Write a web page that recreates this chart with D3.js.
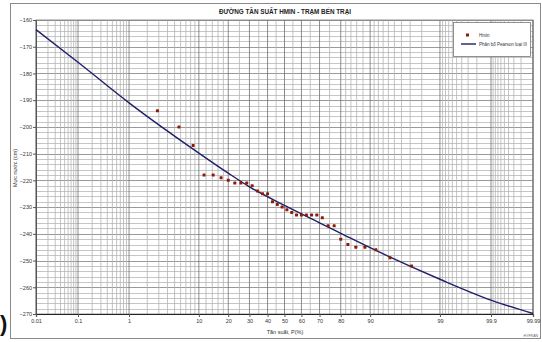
<!DOCTYPE html>
<html>
<head>
<meta charset="utf-8">
<script src="https://cdn.jsdelivr.net/npm/d3@7"></script>
<style>
  body { margin: 0; background: #fff; }
  text { font-family: "Liberation Sans Narrow", "Arial Narrow", "Liberation Sans", Arial, sans-serif; }
</style>
</head>
<body>
<div id="chart"></div>
<script>
"use strict";

// values
const levelTicks = [-160, -170, -180, -190, -200, -210, -220, -230, -240, -250, -260, -270];
const freqTicks = [0.01, 0.1, 1, 10, 20, 30, 40, 50, 60, 70, 80, 90, 99, 99.9, 99.99];
const freqTickLabels = ["0.01", "0.1", "1", "10", "20", "30", "40", "50", "60", "70", "80", "90", "99", "99.9", "99.99"];

// observed Hmin (empirical frequency %, level cm)
const obsFreq = [2.86, 5.71, 8.57, 11.43, 14.29, 17.14, 20.00, 22.86, 25.71, 28.57, 31.43, 34.29,
  37.14, 40.00, 42.86, 45.71, 48.57, 51.43, 54.29, 57.14, 60.00, 62.86, 65.71, 68.57, 71.43,
  74.29, 77.14, 80.00, 82.86, 85.71, 88.57, 91.43, 94.29, 97.14];
const obsLevel = [-194, -200, -207, -218, -218, -219, -220, -221, -221, -221, -222, -224,
  -225, -225, -228, -229, -230, -231, -232, -233, -233, -233, -233, -233, -234,
  -237, -237, -242, -244, -245, -245, -246, -249, -252];

// Pearson III curve
const curveFreq = [0.01, 0.1, 1, 10, 20, 30, 50, 70, 80, 90, 99, 99.9, 99.99];
const curveLevel = [-163.6, -175.8, -191.0, -209.8, -217.3, -222.4, -229.4, -235.9, -239.8, -245.2, -257.0, -264.8, -269.8];

const width = 542;
const height = 342;
const plot = { left: 36, right: 533, top: 20, bottom: 314 };

// inverse normal cdf (Acklam), used for the probability axis
function probit(p) {
  const a = [-3.969683028665376e+01, 2.209460984245205e+02, -2.759285104469687e+02, 1.383577518672690e+02, -3.066479806614716e+01, 2.506628277459239e+00];
  const b = [-5.447609879822406e+01, 1.615858368580409e+02, -1.556989798598866e+02, 6.680131188771972e+01, -1.328068155288572e+01];
  const c = [-7.784894002430293e-03, -3.223964580411365e-01, -2.400758277161838e+00, -2.549671750135263e+00, 4.374664141464968e+00, 2.938163982698783e+00];
  const d = [7.784695709041462e-03, 3.224671290700398e-01, 2.445134137142996e+00, 3.754408661907416e+00];
  const pl = 0.02425;
  let q, r;
  if (p < pl) {
    q = Math.sqrt(-2 * Math.log(p));
    return (((((c[0]*q+c[1])*q+c[2])*q+c[3])*q+c[4])*q+c[5]) / ((((d[0]*q+d[1])*q+d[2])*q+d[3])*q+1);
  }
  if (p > 1 - pl) {
    q = Math.sqrt(-2 * Math.log(1 - p));
    return -(((((c[0]*q+c[1])*q+c[2])*q+c[3])*q+c[4])*q+c[5]) / ((((d[0]*q+d[1])*q+d[2])*q+d[3])*q+1);
  }
  q = p - 0.5;
  r = q * q;
  return (((((a[0]*r+a[1])*r+a[2])*r+a[3])*r+a[4])*r+a[5])*q / (((((b[0]*r+b[1])*r+b[2])*r+b[3])*r+b[4])*r+1);
}

const zScale = d3.scaleLinear()
  .domain([probit(0.0001), probit(0.9999)])
  .range([plot.left, plot.right]);
const xPos = f => zScale(probit(f / 100));

const yScale = d3.scaleLinear()
  .domain([-270, -160])
  .range([plot.bottom, plot.top]);

const svg = d3.select("#chart")
  .append("svg")
  .attr("width", width)
  .attr("height", height);

// outer frame
svg.append("rect")
  .attr("x", 10.5).attr("y", 3.5)
  .attr("width", 530).attr("height", 335)
  .attr("fill", "#fff")
  .attr("stroke", "#8a8a8a");

// minor vertical grid (probability paper)
const lowSide = [].concat(
  d3.range(1, 10).map(v => v * 0.01),
  d3.range(1, 10).map(v => v * 0.1),
  d3.range(1, 10),
  [10, 12, 14, 16, 18],
  [20, 25, 30, 35, 40, 45]
);
const minorFreq = lowSide.concat([50], lowSide.map(v => 100 - v), [99.99]);

const grid = svg.append("g");

grid.selectAll(".hminor")
  .data(d3.range(-270, -159, 2))
  .enter()
  .append("line")
  .attr("x1", plot.left).attr("x2", plot.right)
  .attr("y1", d => Math.round(yScale(d)) + 0.5)
  .attr("y2", d => Math.round(yScale(d)) + 0.5)
  .attr("stroke", d => d % 10 === 0 ? "#808080" : "#b8b8b8")
  .attr("stroke-width", 0.8);

grid.selectAll(".vminor")
  .data(minorFreq)
  .enter()
  .append("line")
  .attr("x1", d => xPos(d)).attr("x2", d => xPos(d))
  .attr("y1", plot.top).attr("y2", plot.bottom)
  .attr("stroke", d => freqTicks.includes(+d.toFixed(2)) ? "#707070" : "#b4b4b4")
  .attr("stroke-width", 0.8);

// plot frame
svg.append("rect")
  .attr("x", plot.left).attr("y", plot.top)
  .attr("width", plot.right - plot.left).attr("height", plot.bottom - plot.top)
  .attr("fill", "none")
  .attr("stroke", "#7a7a7a")
  .attr("stroke-width", 0.8);

// axes
const xAxis = d3.axisBottom(zScale)
  .tickValues(freqTicks.map(f => probit(f / 100)))
  .tickFormat((d, i) => freqTickLabels[i])
  .tickSize(3)
  .tickPadding(2);

const yAxis = d3.axisLeft(yScale)
  .tickValues(levelTicks)
  .tickFormat(d3.format("d"))
  .tickSize(3)
  .tickPadding(1);

const gx = svg.append("g")
  .attr("transform", `translate(0, ${plot.bottom})`)
  .call(xAxis);
gx.select(".domain").attr("stroke", "#222").attr("stroke-width", 1.2);

const gy = svg.append("g")
  .attr("transform", `translate(${plot.left}, 0)`)
  .call(yAxis);
gy.select(".domain").attr("stroke", "#555");

svg.selectAll(".tick line").attr("stroke", "#555");
svg.selectAll(".tick text")
  .attr("font-size", 5.5)
  .attr("fill", "#333")
  .style("font-family", "'Liberation Sans Narrow', 'Liberation Sans', sans-serif");

// fitted curve
const curvePts = curveFreq.map((f, i) => [xPos(f), yScale(curveLevel[i])]);
svg.append("path")
  .datum(curvePts)
  .attr("d", d3.line().curve(d3.curveMonotoneX))
  .attr("fill", "none")
  .attr("stroke", "#1f1f6b")
  .attr("stroke-width", 1.4);

// observed points
svg.selectAll(".obs")
  .data(obsFreq)
  .enter()
  .append("rect")
  .attr("class", "obs")
  .attr("x", d => xPos(d) - 1.5)
  .attr("y", (d, i) => yScale(obsLevel[i]) - 1.5)
  .attr("width", 3).attr("height", 3)
  .attr("rx", 0.6)
  .attr("fill", "#8b1c08");

// title
svg.append("text")
  .attr("x", 285).attr("y", 14)
  .attr("text-anchor", "middle")
  .attr("font-size", 8)
  .attr("font-weight", "bold")
  .attr("fill", "#222")
  .attr("textLength", 132)
  .attr("lengthAdjust", "spacingAndGlyphs")
  .text("ĐƯỜNG TẦN SUẤT HMIN - TRẠM BẾN TRẠI");

// axis titles
svg.append("text")
  .attr("x", 285).attr("y", 334)
  .attr("text-anchor", "middle")
  .attr("font-size", 5.5)
  .attr("fill", "#333")
  .text("Tần suất, P(%)");

svg.append("text")
  .attr("transform", "translate(17, 168) rotate(-90)")
  .attr("text-anchor", "middle")
  .attr("font-size", 5.5)
  .attr("fill", "#333")
  .text("Mực nước (cm)");

// legend
const legend = svg.append("g").attr("transform", "translate(453, 22)");
legend.append("rect")
  .attr("x", 0.5).attr("y", 0.5)
  .attr("width", 77).attr("height", 34)
  .attr("fill", "#fff")
  .attr("stroke", "#777")
  .attr("stroke-width", 0.8);
legend.append("rect")
  .attr("x", 13).attr("y", 11.5)
  .attr("width", 3).attr("height", 3)
  .attr("fill", "#8b1c08");
legend.append("text")
  .attr("x", 26).attr("y", 15)
  .attr("font-size", 4.5)
  .attr("fill", "#333")
  .text("Hmin");
legend.append("line")
  .attr("x1", 8).attr("x2", 23)
  .attr("y1", 22).attr("y2", 22)
  .attr("stroke", "#1f1f6b")
  .attr("stroke-width", 1.4);
legend.append("text")
  .attr("x", 26).attr("y", 23.8)
  .attr("font-size", 4.5)
  .attr("fill", "#333")
  .attr("textLength", 48)
  .attr("lengthAdjust", "spacingAndGlyphs")
  .text("Phân bố Pearson loại III");

// small footer mark and left crop mark
svg.append("text")
  .attr("x", 538).attr("y", 337)
  .attr("text-anchor", "end")
  .attr("font-size", 3.5)
  .attr("fill", "#666")
  .text("HYFRAN");

svg.append("text")
  .attr("x", 0).attr("y", 331)
  .attr("font-size", 22)
  .attr("font-weight", "bold")
  .attr("fill", "#111")
  .text(")");
</script>
</body>
</html>
